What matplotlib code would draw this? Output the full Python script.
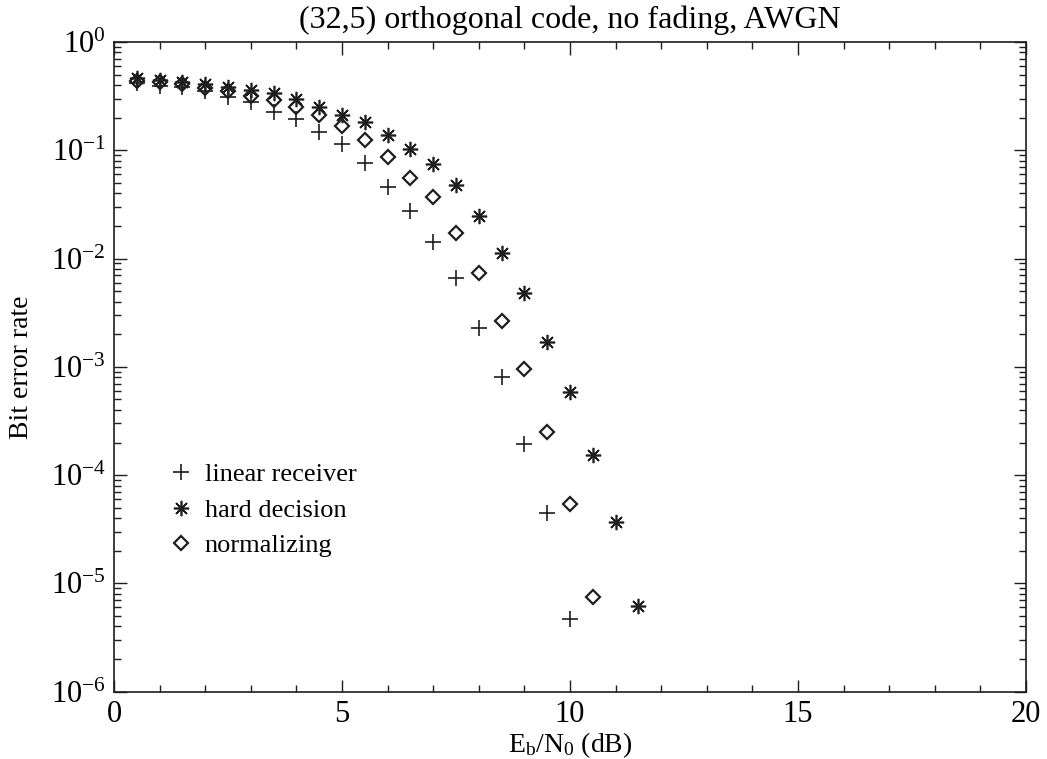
import matplotlib
matplotlib.use("Agg")
import matplotlib.pyplot as plt
from matplotlib.ticker import LogLocator, MultipleLocator, NullFormatter, FixedLocator

# ---- data ----
x_linear = [0.5, 1.0, 1.5, 2.0, 2.5, 3.0, 3.5, 4.0, 4.5, 5.0, 5.5, 6.0, 6.5, 7.0,
            7.5, 8.0, 8.5, 9.0, 9.5, 10.0]
ber_linear = [0.415, 0.39, 0.38, 0.35, 0.31, 0.28, 0.227, 0.193, 0.149, 0.114,
              0.076, 0.046, 0.0277, 0.0143, 0.0066, 0.0023, 8.1e-4, 1.94e-4,
              4.45e-5, 4.67e-6]

x_hard = [0.5, 1.0, 1.5, 2.0, 2.5, 3.0, 3.5, 4.0, 4.5, 5.0, 5.5, 6.0, 6.5, 7.0,
          7.5, 8.0, 8.5, 9.0, 9.5, 10.0, 10.5, 11.0, 11.5]
ber_hard = [0.46, 0.45, 0.43, 0.41, 0.38, 0.36, 0.34, 0.30, 0.252, 0.213, 0.184,
            0.138, 0.102, 0.074, 0.048, 0.0247, 0.0113, 0.00484, 0.00171,
            5.9e-4, 1.54e-4, 3.72e-5, 6.2e-6]

x_norm = [0.5, 1.0, 1.5, 2.0, 2.5, 3.0, 3.5, 4.0, 4.5, 5.0, 5.5, 6.0, 6.5, 7.0,
          7.5, 8.0, 8.5, 9.0, 9.5, 10.0, 10.5]
ber_norm = [0.44, 0.43, 0.41, 0.373, 0.355, 0.32, 0.29, 0.25, 0.21, 0.169,
            0.124, 0.087, 0.056, 0.0368, 0.0173, 0.0073, 0.00267, 9.6e-4,
            2.49e-4, 5.4e-5, 7.46e-6]

labels = ["linear receiver", "hard decision", "normalizing"]
title = "(32,5) orthogonal code, no fading, AWGN"
xlabel = r"$\mathrm{E_b/N_0}$ (dB)"
ylabel = "Bit error rate"

# ---- style ----
plt.rcParams["font.family"] = ["Liberation Serif", "DejaVu Serif"]
plt.rcParams["mathtext.fontset"] = "custom"
plt.rcParams["mathtext.rm"] = "Liberation Serif"
plt.rcParams["mathtext.it"] = "Liberation Serif:italic"
plt.rcParams["mathtext.bf"] = "Liberation Serif:bold"

ink = "#1e1e1e"

fig = plt.figure(figsize=(10.47, 7.59), dpi=100)
ax = fig.add_axes([0.1089, 0.0887, 0.8711, 0.8560])

ax.semilogy(x_linear, ber_linear, linestyle="none", marker="+", ms=11,
            mew=1.2, color=ink, label=labels[0])
ax.semilogy(x_hard, ber_hard, linestyle="none", marker=(8, 2, 0), ms=11,
            mew=1.2, color=ink, label=labels[1])
ax.semilogy(x_norm, ber_norm, linestyle="none", marker="D", ms=7.6,
            mew=1.6, mfc="none", mec=ink, color=ink, label=labels[2])

ax.set_xlim(0, 20)
ax.set_ylim(1e-6, 1)

ax.xaxis.set_major_locator(FixedLocator([0, 5, 10, 15, 20]))
ax.xaxis.set_minor_locator(MultipleLocator(1))
ax.yaxis.set_major_locator(LogLocator(base=10, numticks=10))
ax.yaxis.set_minor_locator(LogLocator(base=10, subs=range(2, 10), numticks=20))
ax.yaxis.set_minor_formatter(NullFormatter())

ax.tick_params(which="both", direction="in", top=True, right=True,
               labelsize=22, color=ink)
ax.tick_params(which="major", length=9, width=1.0, pad=6)
ax.tick_params(which="minor", length=5, width=1.0)
for s in ax.spines.values():
    s.set_linewidth(1.2)
    s.set_color(ink)

ax.set_title(title, fontsize=23, pad=10)
ax.set_xlabel(xlabel, fontsize=20, labelpad=1)
ax.set_ylabel(ylabel, fontsize=20, labelpad=12)

ax.legend(loc="upper left", bbox_to_anchor=(0.059, 0.352), frameon=False,
          fontsize=19, handlelength=1.0, handletextpad=0.4, borderpad=0,
          borderaxespad=0, labelspacing=0.45, numpoints=1)

fig.savefig("out.png", dpi=100)
